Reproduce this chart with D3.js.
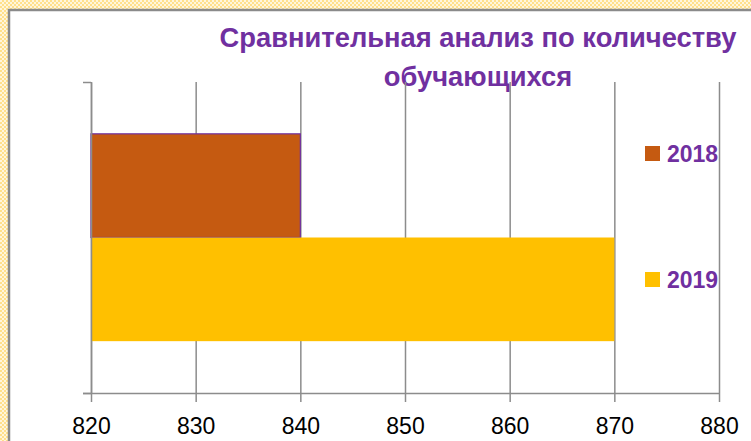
<!DOCTYPE html>
<html>
<head>
<meta charset="utf-8">
<script src="https://cdn.jsdelivr.net/npm/d3@7"></script>
<style>
  html, body { margin: 0; padding: 0; background: #fff; }
  svg { display: block; }
</style>
</head>
<body>
<div id="main"></div>
<script>
var width = 751,
    height = 441;

// data
var titleLines = ["Сравнительная анализ по количеству", "обучающихся"];
var categories = ["обучающиеся"];
var seriesNames = ["2018", "2019"];
var seriesValues = [840, 870];
var seriesColors = ["#C55A11", "#FFC000"];
var xTicks = [820, 830, 840, 850, 860, 870, 880];

var plot = { left: 91, right: 719, top: 82, bottom: 393 };
var purple = "#7030A0",
    gridColor = "#8c8c8c";

var svg = d3.select("#main").append("svg")
    .attr("width", width)
    .attr("height", height);

// checkered frame around the chart
var defs = svg.append("defs");
var pat = defs.append("pattern")
    .attr("id", "checker")
    .attr("width", 4).attr("height", 4)
    .attr("patternUnits", "userSpaceOnUse");
pat.append("rect").attr("width", 4).attr("height", 4).attr("fill", "#FFE08C");
pat.append("rect").attr("x", 0).attr("y", 0).attr("width", 2).attr("height", 2).attr("fill", "#fff6dc");
pat.append("rect").attr("x", 2).attr("y", 2).attr("width", 2).attr("height", 2).attr("fill", "#fff6dc");

svg.append("rect")
    .attr("width", width).attr("height", height)
    .attr("fill", "url(#checker)");

svg.append("rect")
    .attr("x", 9).attr("y", 10)
    .attr("width", width + 20).attr("height", height + 20)
    .attr("fill", "#fff")
    .attr("stroke", "#8a8a8a")
    .attr("stroke-width", 2.5);

// title
var title = svg.append("text")
    .attr("x", 478)
    .attr("y", 47)
    .attr("text-anchor", "middle")
    .attr("fill", purple)
    .style("font-family", "'Liberation Sans', Arial, sans-serif")
    .style("font-weight", "bold")
    .style("font-size", "26px");
title.selectAll("tspan")
    .data(titleLines)
    .enter().append("tspan")
    .attr("x", 478)
    .attr("dy", function(d, i) { return i ? 39 : 0; })
    .text(function(d) { return d; });

// fit first line to the width seen in the reference
var w0 = title.select("tspan").node().getComputedTextLength();
title.style("font-size", (26 * 517 / w0) + "px");

// scales
var x = d3.scaleLinear()
    .domain([820, 880])
    .range([plot.left, plot.right]);

var y0 = d3.scaleBand()
    .domain(categories)
    .range([plot.top, plot.bottom])
    .padding(0);

var y1 = d3.scaleBand()
    .domain(seriesNames)
    .range([0, y0.bandwidth()])
    .paddingInner(0)
    .paddingOuter(0.5);

// gridlines
var grid = svg.append("g")
    .attr("transform", `translate(0,${plot.top})`)
    .call(d3.axisTop(x).tickValues(xTicks).tickSize(-(plot.bottom - plot.top)).tickFormat(""));
grid.select(".domain").remove();
grid.selectAll("line")
    .attr("stroke", gridColor)
    .attr("stroke-width", 1.5);

// bars
var rows = seriesNames.map(function(s, i) {
    return { name: s, value: seriesValues[i], color: seriesColors[i] };
});

svg.append("g")
    .selectAll("rect")
    .data(rows)
    .enter().append("rect")
    .attr("x", x(820))
    .attr("y", function(d) { return y0(categories[0]) + y1(d.name); })
    .attr("width", function(d) { return x(d.value) - x(820); })
    .attr("height", y1.bandwidth())
    .attr("fill", function(d) { return d.color; })
    .attr("stroke", function(d, i) { return i === 0 ? purple : "none"; })
    .attr("stroke-width", 1.2);

// vertical category axis
var yEdge = d3.scaleLinear().domain([0, 1]).range([plot.bottom, plot.top]);
var leftAxis = svg.append("g")
    .attr("transform", `translate(${plot.left},0)`)
    .call(d3.axisLeft(yEdge).tickValues([0, 1]).tickSize(8).tickSizeOuter(0).tickFormat(""));
leftAxis.selectAll("line, path")
    .attr("stroke", gridColor)
    .attr("stroke-width", 1.5);

// bottom value axis
var bottomAxis = svg.append("g")
    .attr("transform", `translate(0,${plot.bottom})`)
    .call(d3.axisBottom(x).tickValues(xTicks).tickSize(9).tickSizeOuter(0).tickPadding(16)
          .tickFormat(d3.format("d")));
bottomAxis.select(".domain")
    .attr("d", `M${plot.left - 8},0.5H${plot.right}`);
bottomAxis.selectAll("line, path")
    .attr("stroke", gridColor)
    .attr("stroke-width", 1.5);
bottomAxis.selectAll("text")
    .attr("fill", "#000")
    .style("font-family", "'Liberation Sans', Arial, sans-serif")
    .style("font-size", "23px");

// legend
var legend = svg.append("g")
    .selectAll("g")
    .data(rows)
    .enter().append("g")
    .attr("transform", function(d, i) { return `translate(645,${146 + i * 126})`; });

legend.append("rect")
    .attr("width", 15)
    .attr("height", 15)
    .attr("fill", function(d) { return d.color; });

legend.append("text")
    .attr("x", 22)
    .attr("y", 16)
    .attr("fill", purple)
    .style("font-family", "'Liberation Sans', Arial, sans-serif")
    .style("font-weight", "bold")
    .style("font-size", "23px")
    .text(function(d) { return d.name; });
</script>
</body>
</html>
